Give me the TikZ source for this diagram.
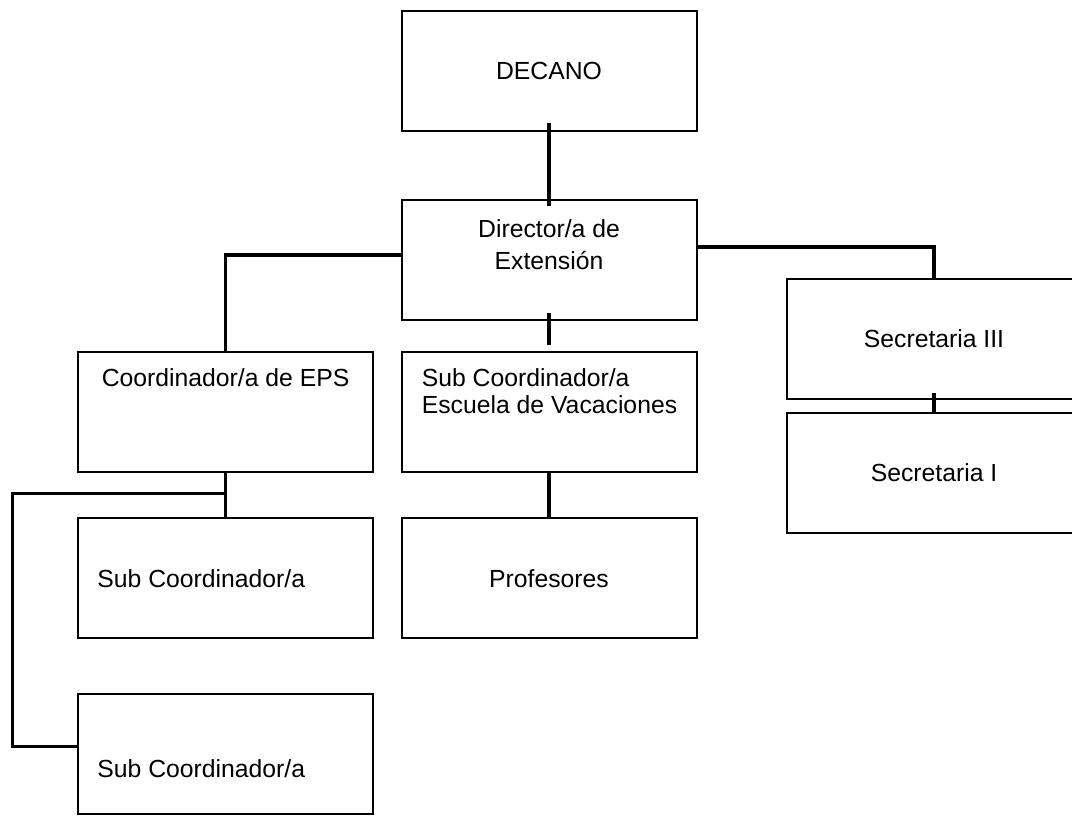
\documentclass[tikz,border=0pt]{standalone}
\usepackage{fontspec}
\setmainfont{Liberation Sans}
\usetikzlibrary{positioning}

\begin{document}
\begin{tikzpicture}[
  node distance=1.115cm,
  box/.style={
    rectangle,
    draw,
    line width=0.05cm,
    align=center,
    inner sep=0pt,
    minimum width=7.375cm,
    minimum height=3cm
  },
  link/.style={line width=0.08cm},
  toptext/.style={anchor=north, align=center, inner sep=0pt},
  lefttext/.style={anchor=west, align=left, inner sep=0pt, xshift=0.5cm},
  every node/.append style={font=\fontsize{17.6}{19.2}\selectfont}
]
\useasboundingbox (0,0) rectangle (26.8,-20.4);

% Nodes (middle column top-down, then the sides)
\node[box] (decano) at (13.725,-1.775) {DECANO};
\node[box, below=1.675cm of decano, label={[toptext, yshift=-0.5cm]north:{Director/a de\\[3.6pt]Extensión}}] (director) {};
\node[box, below=0.74cm of director, label={[toptext, anchor=north west, align=left, xshift=0.525cm, yshift=-0.45cm]north west:{Sub Coordinador/a\\Escuela de Vacaciones}}] (subesc) {};
\node[box, below=of subesc] (prof) {Profesores};
\node[box, left=0.66cm of subesc, label={[toptext, yshift=-0.45cm]north:{Coordinador/a de EPS}}] (coord) {};
\node[box, below=of coord, label={[lefttext]west:{Sub Coordinador/a}}] (subA) {};
\node[box, below=1.34cm of subA, label={[lefttext, yshift=-0.375cm]west:{Sub Coordinador/a}}] (subB) {};
\node[box, below right=1.975cm and 2.2cm of director.north east] (sec3) {Secretaria III};
\node[box, below=0.3cm of sec3] (sec1) {Secretaria I};

% Connectors
\draw[link] ([yshift=0.225cm]decano.south) -- ([yshift=-0.175cm]director.north);
\draw[link] ([yshift=0.125cm]director.west) -| (coord.north);
\draw[link] ([yshift=0.325cm]director.east) -| (sec3.north);
\draw[link] ([yshift=0.2cm]director.south) -- ([yshift=0.15cm]subesc.north);
\draw[link] (subesc) -- (prof);
\draw[link] (coord) -- (subA);
\draw[link] ([yshift=-0.525cm]coord.south) -- ++(-5.3375,0) |- ([yshift=0.175cm]subB.west);
\draw[link] ([yshift=0.175cm]sec3.south) -- (sec1);

\end{tikzpicture}
\end{document}
